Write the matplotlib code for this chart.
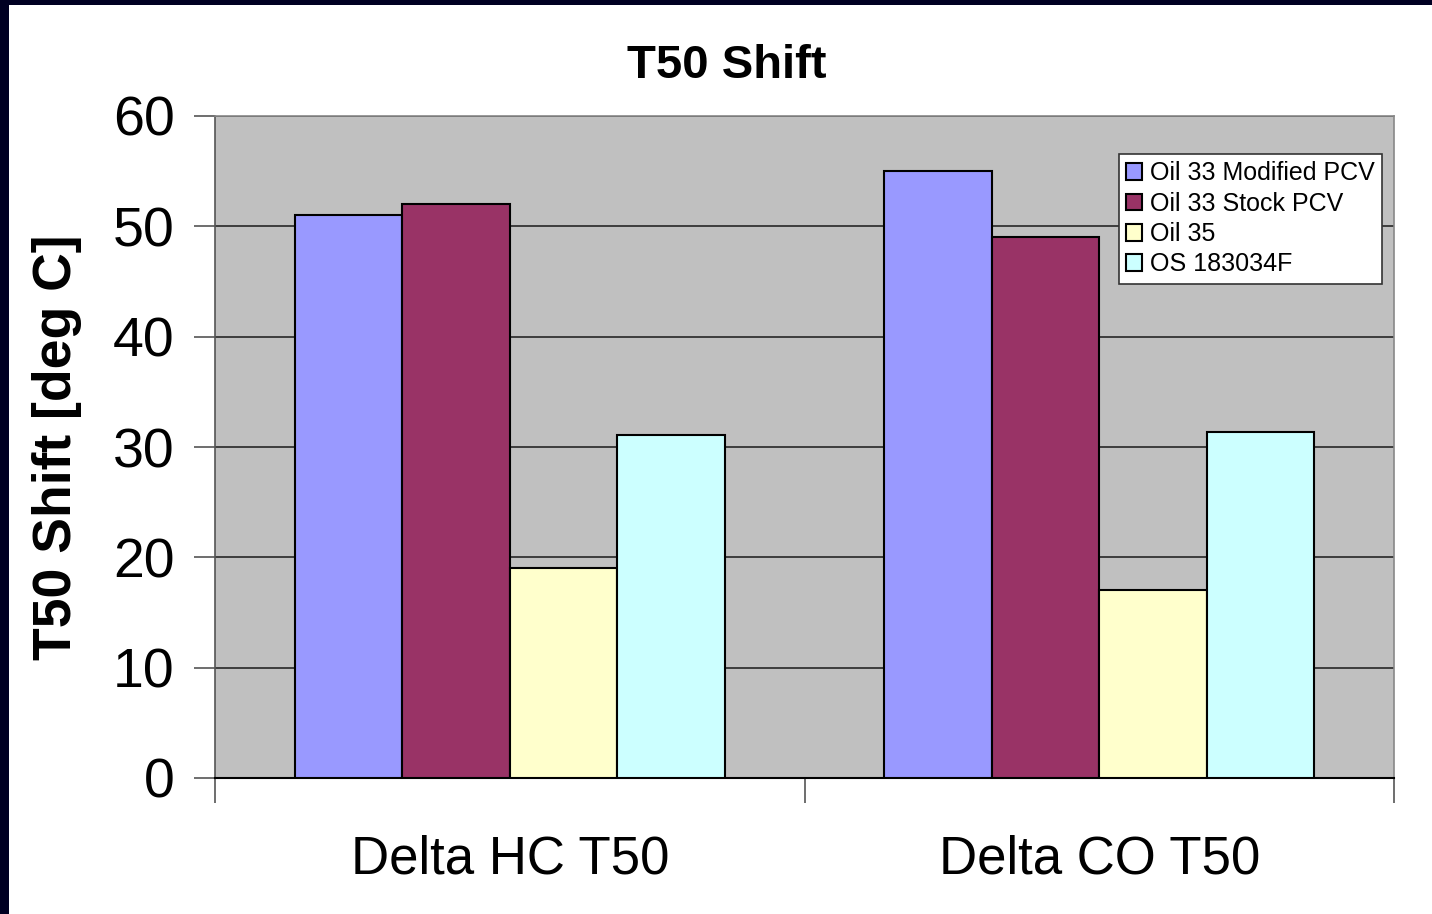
import matplotlib
matplotlib.use("Agg")
import matplotlib.pyplot as plt
import numpy as np
from matplotlib.patches import Rectangle

categories = ["Delta HC T50", "Delta CO T50"]
series_names = ["Oil 33 Modified PCV", "Oil 33 Stock PCV", "Oil 35", "OS 183034F"]
oil33_modified = [51, 55]
oil33_stock = [52, 49]
oil35 = [19, 17]
os183034f = [31.1, 31.4]
series_values = [oil33_modified, oil33_stock, oil35, os183034f]
colors = ["#9999FF", "#993366", "#FFFFCC", "#CCFFFF"]
y_ticks = [0, 10, 20, 30, 40, 50, 60]

plt.rcParams["font.family"] = ["Liberation Sans", "DejaVu Sans"]

W, H = 1432, 914
fig = plt.figure(figsize=(W / 100, H / 100), dpi=100)
fig.patch.set_facecolor("white")

# dark frame along the left and top edges
fig.patches.append(Rectangle((0, 0), 9 / W, 1, transform=fig.transFigure,
                             facecolor="#000022", edgecolor="none", zorder=0))
fig.patches.append(Rectangle((0, 1 - 5 / H), 1, 5 / H, transform=fig.transFigure,
                             facecolor="#000022", edgecolor="none", zorder=0))

left, right, top, bottom = 215, 1394, 116, 778
ax = fig.add_axes([left / W, 1 - bottom / H, (right - left) / W, (bottom - top) / H])
ax.set_facecolor("#C0C0C0")

n = len(series_values)
bar_w = 0.1825
x = np.arange(len(categories))
for i, (vals, c, name) in enumerate(zip(series_values, colors, series_names)):
    offs = (i - (n - 1) / 2) * bar_w
    ax.bar(x + offs, vals, width=bar_w, color=c, edgecolor="black",
           linewidth=1.5, label=name, zorder=3)

ax.set_xlim(-0.5, len(categories) - 0.5)
ax.set_ylim(0, 60)
ax.set_yticks(y_ticks)
ax.set_yticklabels([str(t) for t in y_ticks], fontsize=40)
ax.yaxis.grid(True, color="#333333", linewidth=1.3, zorder=1)
ax.set_axisbelow(True)

# category labels between boundary ticks
ax.set_xticks([-0.5, 0.5, 1.5])
ax.set_xticklabels([])
ax.set_xticks(x, minor=True)
ax.set_xticklabels(categories, minor=True, fontsize=38)
ax.tick_params(axis="x", which="major", length=18, width=1.2, color="#555555", direction="out")
ax.tick_params(axis="x", which="minor", length=0, pad=41)
ax.tick_params(axis="y", length=15, width=1.2, color="#555555", pad=14)

for s in ["top", "right"]:
    ax.spines[s].set_color("#888888")
    ax.spines[s].set_linewidth(1.2)
ax.spines["left"].set_color("#555555")
ax.spines["left"].set_linewidth(1.2)
ax.spines["bottom"].set_color("black")
ax.spines["bottom"].set_linewidth(1.5)

ax.set_ylabel("T50 Shift [deg C]", fontsize=38.5, fontweight="bold", labelpad=22)
fig.text(727 / W, 1 - 66 / H, "T50 Shift", ha="center", va="center",
         fontsize=34, fontweight="bold")

leg = ax.legend(loc="upper right", bbox_to_anchor=((1382 - left) / (right - left), (bottom - 154) / (bottom - top)),
                fontsize=18, frameon=True, fancybox=False, borderpad=0.3,
                labelspacing=0.25, handlelength=0.65, handleheight=0.65,
                handletextpad=0.3, borderaxespad=0)
leg.get_frame().set_edgecolor("#333333")
leg.get_frame().set_linewidth(1.2)
leg.get_frame().set_facecolor("white")
leg.get_frame().set_alpha(1)

fig.savefig("out.png", dpi=100)
